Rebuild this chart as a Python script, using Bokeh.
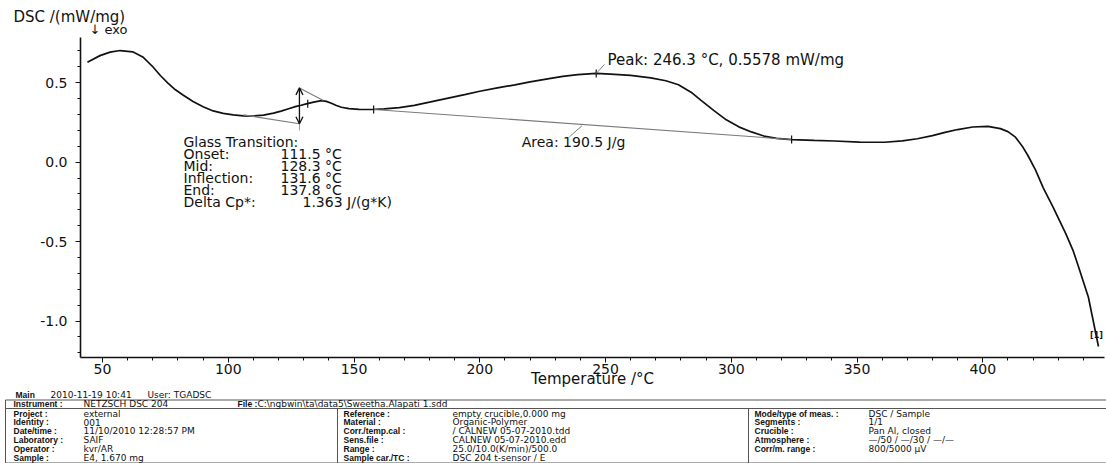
import numpy as np
from bokeh.plotting import figure
from bokeh.models import (Range1d, FixedTicker, PrintfTickFormatter, Arrow, OpenHead)
from bokeh.layouts import column
from bokeh.embed import file_html
from bokeh.resources import INLINE
from bokeh.core.properties import value

# ------------------------------------------------------------------ data
temperature = [44, 49, 53, 57, 62, 66, 70, 73, 76, 79, 82, 86, 90, 94, 98, 102, 106,
               110, 114, 118, 121, 124, 127, 129, 131, 134, 137, 139, 141, 143, 145,
               148, 152, 157, 162, 168, 174, 180, 187, 194, 200, 207, 214, 220, 227,
               233, 239, 246.3, 252, 260, 268, 274, 279, 284, 288, 293, 298, 303, 308,
               313, 318, 324, 333, 341, 351, 361, 368, 374, 380, 385, 390, 396, 402,
               407, 410, 413, 416, 418, 421, 424, 428, 433, 436, 438, 442, 446]
dsc = [0.629, 0.670, 0.692, 0.702, 0.694, 0.662, 0.600, 0.545, 0.497, 0.455, 0.422,
       0.381, 0.348, 0.322, 0.307, 0.297, 0.291, 0.290, 0.296, 0.308, 0.321, 0.336,
       0.351, 0.358, 0.366, 0.377, 0.387, 0.382, 0.370, 0.356, 0.345, 0.337, 0.332,
       0.331, 0.335, 0.343, 0.357, 0.377, 0.401, 0.425, 0.446, 0.467, 0.486, 0.505,
       0.524, 0.540, 0.551, 0.5578, 0.554, 0.546, 0.530, 0.512, 0.487, 0.440, 0.389,
       0.326, 0.266, 0.222, 0.190, 0.164, 0.149, 0.142, 0.137, 0.133, 0.126, 0.125,
       0.134, 0.147, 0.167, 0.187, 0.205, 0.221, 0.225, 0.211, 0.192, 0.157, 0.093,
       0.040, -0.050, -0.160, -0.285, -0.450, -0.560, -0.655, -0.850, -1.160]

x_tick_values = [50, 100, 150, 200, 250, 300, 350, 400]
y_tick_values = [-1.0, -0.5, 0.0, 0.5]

gt_names = ["Glass Transition:", "Onset:", "Mid:", "Inflection:", "End:", "Delta Cp*:"]
gt_texts = ["", "111.5 °C", "128.3 °C", "131.6 °C", "137.8 °C", "1.363 J/(g*K)"]
gt_onset, gt_mid, gt_inflection, gt_end = 111.5, 128.3, 131.6, 137.8

peak_T, peak_v = 246.3, 0.5578
peak_text = "Peak: 246.3 °C, 0.5578 mW/mg"
area_text = "Area: 190.5 J/g"
area_T = [157.8, 324.0]
area_v = [0.331, 0.142]
marker_T = [131.6, 157.8, 246.3, 324.0]
marker_v = [0.367, 0.331, 0.5578, 0.142]

y_title = "DSC /(mW/mg)"
exo_text = "↓  exo"
x_title = "Temperature /°C"
curve_tag = "[1]"

main_tag, main_date, main_user = "Main", "2010-11-19 10:41", "User: TGADSC"
instr_label, instr_value = "Instrument :", "NETZSCH DSC 204"
file_label, file_value = "File :", r"C:\ngbwin\ta\data5\Sweetha.Alapati 1.sdd"
left_labels = ["Project :", "Identity :", "Date/time :", "Laboratory :", "Operator :", "Sample :"]
left_values = ["external", "001", "11/10/2010 12:28:57 PM", "SAIF", "kvr/AR", "E4, 1.670 mg"]
mid_labels = ["Reference :", "Material :", "Corr./temp.cal :", "Sens.file :", "Range :",
              "Sample car./TC :"]
mid_values = ["empty crucible,0.000 mg", "Organic-Polymer", " / CALNEW 05-07-2010.tdd",
              "CALNEW  05-07-2010.edd", "25.0/10.0(K/min)/500.0", "DSC 204 t-sensor / E"]
right_labels = ["Mode/type of meas. :", "Segments :", "Crucible :", "Atmosphere :",
                "Corr/m. range :"]
right_values = ["DSC / Sample", "1/1", "Pan Al, closed", "—/50 / —/30 / —/—",
                "800/5000 µV"]

# ------------------------------------------------------------------ layout helpers
FONT = "DejaVu Sans"
LFONT = "Liberation Sans"
INK = "#111111"
W = 1106
HEAD = 37                      # header strip height
FL, FR = 80, 1104              # frame left / right (page px)
FT, FB = 37, 358               # frame top / bottom (page px)
BOTTOM = 32                    # x-axis border
H1 = (FB - FT) + BOTTOM
FOOT_TOP = HEAD + H1
H2 = 463 - FOOT_TOP
X0, X1 = 41.25, 448.4
Y0, Y1 = -1.229, 0.784


def tx(px):
    return X0 + (px - FL) * (X1 - X0) / (FR - FL)


def ty(py):
    return Y1 - (py - FT) * (Y1 - Y0) / (FB - FT)


def strip(height, top):
    f = figure(width=W, height=height, x_range=Range1d(0, W),
               y_range=Range1d(top + height, top), output_backend="svg",
               toolbar_location=None, min_border=0, x_axis_type=None, y_axis_type=None)
    f.outline_line_color = None
    f.background_fill_color = "white"
    f.border_fill_color = "white"
    f.grid.visible = False
    f.frame_align = False
    return f


# ------------------------------------------------------------------ header
hd = strip(HEAD, 0)
hd.text(x=[13], y=[16], text=[y_title], text_font=value(FONT), text_font_size="15px",
        text_color=INK, text_align="left", text_baseline="middle")
hd.text(x=[89], y=[29], text=[exo_text], text_font=value(FONT), text_font_size="13px",
        text_color=INK, text_align="left", text_baseline="middle")

# ------------------------------------------------------------------ main plot
p = figure(width=W, height=H1, x_range=Range1d(X0, X1), y_range=Range1d(Y0, Y1),
           output_backend="svg", toolbar_location=None,
           min_border_left=FL, min_border_right=W - FR, min_border_top=0,
           min_border_bottom=BOTTOM)
p.frame_align = False
p.xgrid.visible = False
p.ygrid.visible = False
p.outline_line_color = None
p.background_fill_color = "white"
p.border_fill_color = "white"

p.xaxis.ticker = FixedTicker(ticks=x_tick_values, minor_ticks=list(range(50, 441, 10)))
p.yaxis.ticker = FixedTicker(ticks=y_tick_values,
                             minor_ticks=[round(-1.2 + 0.1 * i, 1) for i in range(20)])
p.yaxis.formatter = PrintfTickFormatter(format="%.1f")
for ax in (p.xaxis, p.yaxis):
    ax.axis_line_width = 1.6
    ax.axis_line_color = INK
    ax.major_tick_in = 0
    ax.major_tick_out = 5
    ax.minor_tick_in = 0
    ax.minor_tick_out = 3
    ax.major_tick_line_color = INK
    ax.minor_tick_line_color = INK
    ax.major_label_text_font = FONT
    ax.major_label_text_font_size = "14px"
    ax.major_label_text_color = INK
p.xaxis.major_label_standoff = 1
p.yaxis.major_label_standoff = 8
p.xaxis.axis_label = x_title
p.xaxis.axis_label_text_font = FONT
p.xaxis.axis_label_text_font_size = "15px"
p.xaxis.axis_label_text_font_style = "normal"
p.xaxis.axis_label_text_color = INK
p.xaxis.axis_label_standoff = -7

# curve
p.line(temperature, dsc, line_color=INK, line_width=1.7)

GRAY = "#7a7a7a"
# glass transition construction
p.line([gt_mid, gt_end], [0.467, 0.387], line_color=GRAY, line_width=1.1)
p.line([106.0, gt_mid], [0.297, 0.241], line_color=GRAY, line_width=1.1)
p.line([gt_mid, gt_mid], [0.241, 0.20], line_color=GRAY, line_width=0.8)
p.add_layout(Arrow(start=OpenHead(size=7, line_width=1.3, line_color=INK),
                   end=OpenHead(size=7, line_width=1.3, line_color=INK),
                   x_start=gt_mid, y_start=0.241, x_end=gt_mid, y_end=0.467,
                   line_width=1.3, line_color=INK))

# peak integration baseline
p.line(area_T, area_v, line_color=GRAY, line_width=1.1)

# tick marks on the curve
p.segment(x0=marker_T, y0=[v - 0.025 for v in marker_v],
          x1=marker_T, y1=[v + 0.025 for v in marker_v],
          line_color=INK, line_width=1.2)

# leader lines
p.line([peak_T, tx(604)], [peak_v, ty(64)], line_color=GRAY, line_width=1)
p.line([tx(569), tx(581.5)], [ty(136.5), ty(125.5)], line_color=GRAY, line_width=1)

# glass transition text block
rows_y = [ty(142 + 12 * i) for i in range(len(gt_names))]
p.text(x=[tx(183)] * len(gt_names), y=rows_y, text=gt_names,
       text_font=value(FONT), text_font_size="14px", text_color=INK,
       text_align="left", text_baseline="middle")
val_x = [tx(280)] * (len(gt_texts) - 1) + [tx(302)]
p.text(x=val_x, y=rows_y, text=gt_texts,
       text_font=value(FONT), text_font_size="14px", text_color=INK,
       text_align="left", text_baseline="middle")

p.text(x=[tx(607)], y=[ty(60)], text=[peak_text], text_font=value(FONT),
       text_font_size="15px", text_color=INK, text_align="left",
       text_baseline="middle")
p.text(x=[tx(573)], y=[ty(142)], text=[area_text], text_font=value(FONT),
       text_font_size="14px", text_color=INK, text_align="center",
       text_baseline="middle")
p.text(x=[tx(1096)], y=[ty(336)], text=[curve_tag], text_font=value(FONT),
       text_font_size="8px", text_font_style="bold", text_color=INK,
       text_align="center", text_baseline="middle")

# ------------------------------------------------------------------ info table
t = strip(H2, FOOT_TOP)
LINE = "#555555"
t.segment(x0=[5, 5, 5], y0=[399.5, 408, 462.5], x1=[W, W, W], y1=[399.5, 408, 462.5],
          line_color=LINE, line_width=1)
t.segment(x0=[5, 337, 748], y0=[399.5, 408, 408], x1=[5, 337, 748],
          y1=[462.5, 462.5, 462.5], line_color=LINE, line_width=1)


def lab(xs, ys, texts):
    t.text(x=xs, y=ys, text=texts, text_font=value(LFONT), text_font_size="8.5px",
           text_font_style="bold", text_color=INK, text_align="left",
           text_baseline="middle")


def val(xs, ys, texts):
    t.text(x=xs, y=ys, text=texts, text_font=value(FONT), text_font_size="9px",
           text_color=INK, text_align="left", text_baseline="middle")


lab([15], [394.5], [main_tag])
val([50, 147], [394.5, 394.5], [main_date, main_user])
lab([13, 237], [403.8, 403.8], [instr_label, file_label])
val([83, 257], [403.8, 403.8], [instr_value, file_value])
row_y = [413 + 8.9 * i for i in range(6)]
lab([13] * 6, row_y, left_labels)
val([83] * 6, row_y, left_values)
lab([343] * 6, row_y, mid_labels)
val([452] * 6, row_y, mid_values)
lab([754] * 5, row_y[:5], right_labels)
val([868] * 5, row_y[:5], right_values)

layout = column(hd, p, t, spacing=0)
open("out.html", "w").write(file_html(layout, INLINE))
